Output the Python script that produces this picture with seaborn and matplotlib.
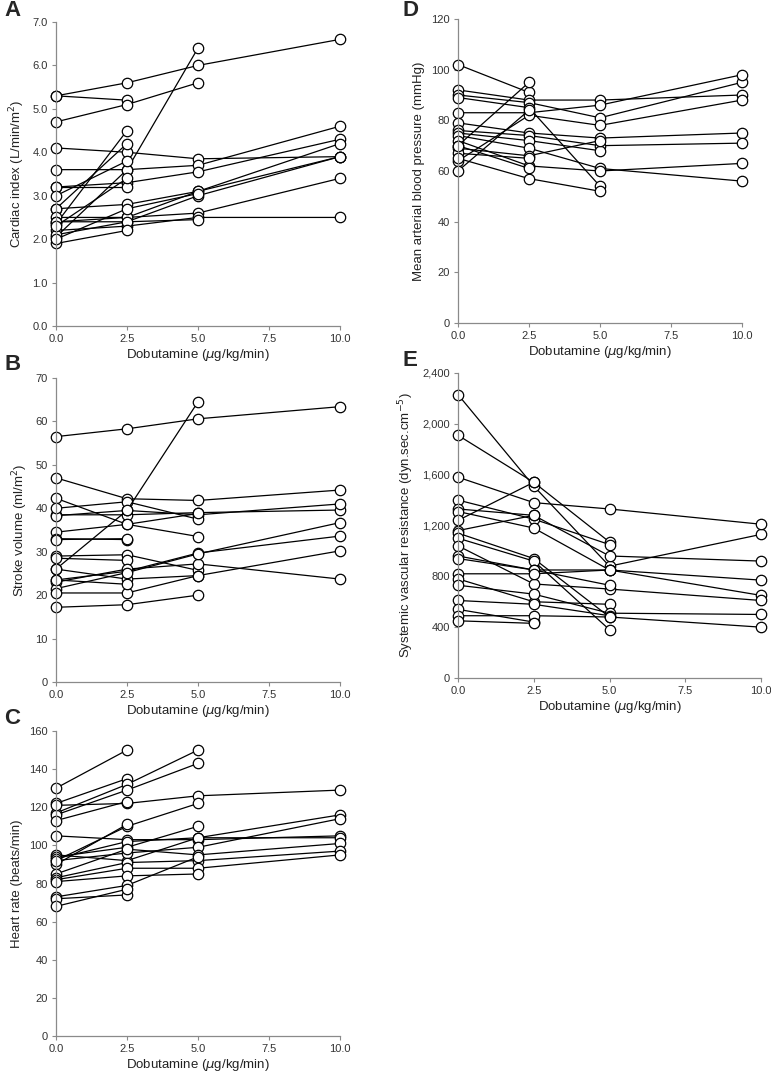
import numpy as np
import pandas as pd
import matplotlib.pyplot as plt
import seaborn as sns
from matplotlib.ticker import FuncFormatter, MultipleLocator

nan = np.nan
doses = [0.0, 2.5, 5.0, 10.0]

# cardiac index, one row per patient (values at 0, 2.5, 5, 10)
cardiac_index = [
    [5.3, 5.6, 6.0, 6.6],
    [5.3, 5.2, nan, nan],
    [4.7, 5.1, 5.6, nan],
    [4.1, 4.0, 3.85, 3.9],
    [3.6, 3.6, 3.7, 4.6],
    [2.05, 3.6, 6.4, nan],
    [3.2, 3.3, 3.55, 4.3],
    [3.2, 3.2, nan, nan],
    [2.35, 4.5, nan, nan],
    [2.7, 4.2, nan, nan],
    [3.0, 3.8, nan, nan],
    [2.7, 2.8, 3.1, 4.2],
    [2.5, 2.5, 3.1, 3.9],
    [2.4, 2.4, 3.0, 3.9],
    [2.4, 2.5, 2.6, 3.4],
    [2.2, 2.3, 2.5, 2.5],
    [2.1, 2.4, 2.45, nan],
    [1.9, 2.2, nan, nan],
    [2.0, 2.7, 3.05, nan],
    [2.3, 3.4, nan, nan],
]

stroke_volume = [
    [56.5, 58.3, 60.6, 63.4],
    [47.0, 42.2, 41.8, 44.2],
    [42.3, 36.3, 33.5, nan],
    [38.5, 38.5, 39.0, 39.6],
    [38.3, 39.5, 38.5, 41.0],
    [40.0, 41.5, 37.5, nan],
    [34.5, 36.3, 38.8, nan],
    [26.0, 39.5, 64.5, nan],
    [33.0, 32.8, nan, nan],
    [32.8, 33.0, nan, nan],
    [29.0, 29.3, 25.7, nan],
    [28.5, 28.0, nan, nan],
    [26.0, 23.7, 24.5, 30.2],
    [23.5, 25.5, 29.7, 33.6],
    [23.0, 26.0, 27.2, 23.7],
    [21.5, 25.2, 29.5, 36.7],
    [20.5, 20.5, 24.5, nan],
    [23.5, 22.5, nan, nan],
    [17.2, 17.8, 20.0, nan],
]

heart_rate = [
    [130, 150, nan, nan],
    [122, 135, nan, nan],
    [117, 132, 150, nan],
    [116, 129, 143, nan],
    [121, 122, 126, 129],
    [113, 123, nan, nan],
    [105, 103, 103, 105],
    [92, 110, 122, nan],
    [90, 111, nan, nan],
    [95, 92, 104, 116],
    [94, 99, 110, nan],
    [93, 102, 104, 104],
    [92, 96, 99, 114],
    [85, 98, 95, 101],
    [83, 91, 92, 97],
    [82, 88, 88, 95],
    [81, 84, 85, nan],
    [73, 79, 94, nan],
    [72, 74, nan, nan],
    [68, 77, nan, nan],
]

mean_arterial_pressure = [
    [102, 91, nan, nan],
    [92, 88, 88, 90],
    [90, 87, 81, 95],
    [89, 85, 54, nan],
    [83, 83, 86, 98],
    [79, 75, 73, 75],
    [76, 74, 70, 71],
    [75, 72, 68, nan],
    [74, 69, 61, 56],
    [72, 62, 60, 63],
    [70, 95, nan, nan],
    [69, 66, 72, nan],
    [67, 65, nan, nan],
    [64, 82, 78, 88],
    [60, 84, nan, nan],
    [65, 57, 52, nan],
    [70, 61, nan, nan],
]

vascular_resistance = [
    [2230, 1510, 880, 1130],
    [1910, 1540, 1070, nan],
    [1580, 1380, 1330, 1210],
    [1400, 1250, 1050, nan],
    [1330, 1280, 960, 920],
    [1310, 1180, 850, 650],
    [1240, 1540, nan, nan],
    [1160, 1280, nan, nan],
    [1140, 940, 480, nan],
    [1100, 920, 380, nan],
    [1040, 740, 700, 610],
    [960, 850, 850, 770],
    [940, 850, 730, nan],
    [820, 820, 850, nan],
    [780, 600, 580, nan],
    [730, 660, 510, 500],
    [610, 580, 490, nan],
    [540, 440, nan, nan],
    [490, 490, 480, 400],
    [450, 430, nan, nan],
]


def to_long(rows):
    recs = []
    for i, row in enumerate(rows):
        for d, v in zip(doses, row):
            if not np.isnan(v):
                recs.append({"patient": i, "dose": d, "value": v})
    return pd.DataFrame(recs)


sns.set_style("ticks")
plt.rcParams["font.family"] = ["Liberation Sans Narrow", "Liberation Sans", "DejaVu Sans"]

fig = plt.figure(figsize=(7.71, 10.71), dpi=100)
W, H = 771, 1071


def add_ax(left, right, top, bottom):
    return fig.add_axes([left / W, 1 - bottom / H, (right - left) / W, (bottom - top) / H])


panels = [
    # data, px box, ylim, ystep, ylabel, letter, letter pos, formatter
    (cardiac_index, (56, 340, 22, 326), 7.0, 1.0, "Cardiac index (L/min/m$^2$)", "A", (4, 11), "{:.1f}"),
    (stroke_volume, (56, 340, 378, 682), 70, 10, "Stroke volume (ml/m$^2$)", "B", (4, 364), "{:.0f}"),
    (heart_rate, (56, 340, 731, 1036), 160, 20, "Heart rate (beats/min)", "C", (4, 718), "{:.0f}"),
    (mean_arterial_pressure, (458, 742, 19, 323), 120, 20, "Mean arterial blood pressure (mmHg)", "D", (403, 11), "{:.0f}"),
    (vascular_resistance, (458, 761, 373, 678), 2400, 400, "Systemic vascular resistance (dyn.sec.cm$^{-5}$)", "E", (403, 360), "{:,.0f}"),
]

for rows, (l, r, t, b), ymax, ystep, ylabel, letter, (lx, ly), fmt in panels:
    ax = add_ax(l, r, t, b)
    df = to_long(rows)
    sns.lineplot(data=df, x="dose", y="value", units="patient", estimator=None,
                 color="black", linewidth=0.9, marker="o", markersize=7.5,
                 markerfacecolor="white", markeredgecolor="black", markeredgewidth=0.9,
                 ax=ax, legend=False, clip_on=False)
    ax.set_xlim(0, 10)
    ax.set_ylim(0, ymax)
    ax.set_xticks([0, 2.5, 5, 7.5, 10])
    ax.xaxis.set_major_formatter(FuncFormatter(lambda v, p: f"{v:.1f}"))
    ax.yaxis.set_major_locator(MultipleLocator(ystep))
    ax.yaxis.set_major_formatter(FuncFormatter(lambda v, p, f=fmt: f.format(v)))
    sns.despine(ax=ax)
    for s in ["left", "bottom"]:
        ax.spines[s].set_color("#8a8a8a")
        ax.spines[s].set_linewidth(0.9)
    ax.tick_params(length=3, width=0.8, color="#8a8a8a", labelsize=8, labelcolor="#333333", pad=3)
    ax.set_xlabel("Dobutamine ($\\mu$g/kg/min)", fontsize=9.5, color="#222222", labelpad=2)
    ax.set_ylabel(ylabel, fontsize=9.5, color="#222222", labelpad=4)
    fig.text(lx / W, 1 - ly / H, letter, fontsize=16, fontweight="bold",
             family=["Liberation Sans", "DejaVu Sans"], va="center", ha="left")

fig.savefig("out.png", dpi=100)
